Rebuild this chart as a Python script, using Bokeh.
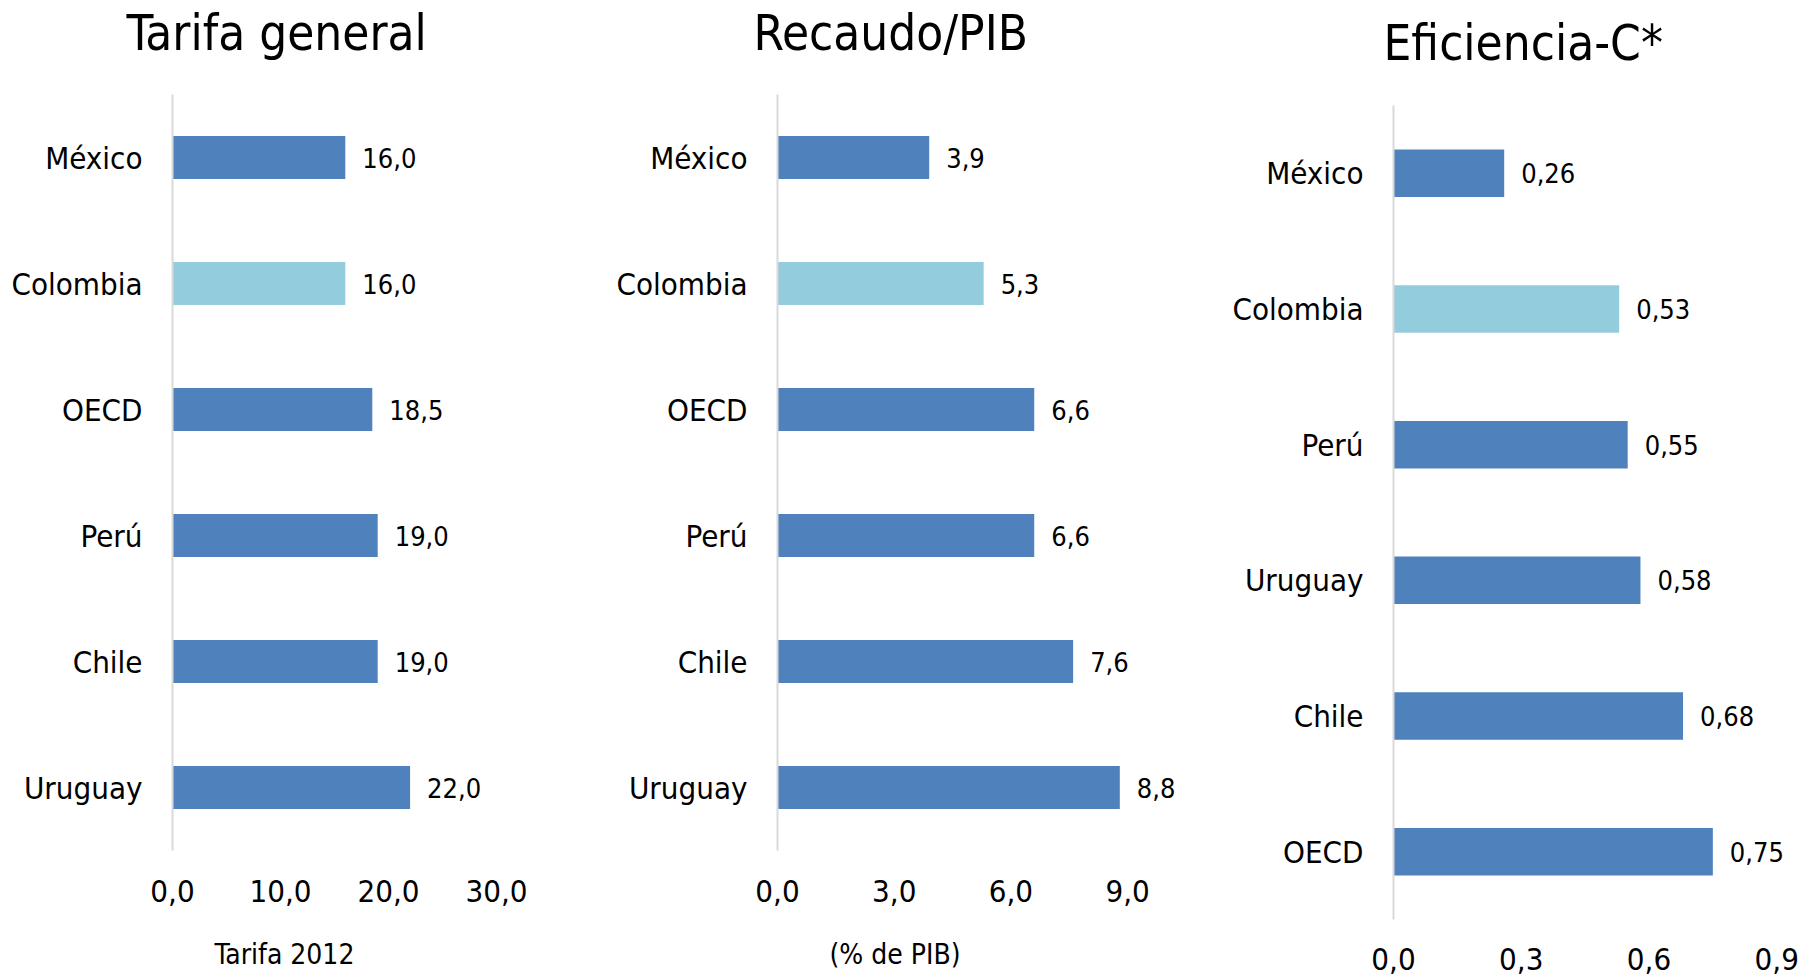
from bokeh.plotting import figure
from bokeh.layouts import row, column
from bokeh.models import (FactorRange, Range1d, FixedTicker, CustomJSTickFormatter,
                          LinearAxis, Title, ColumnDataSource)
from bokeh.core.properties import value
from bokeh.embed import file_html
from bokeh.resources import INLINE

FONT = "DejaVu Sans Condensed"
DARK = "#4F81BD"
LIGHT = "#93CDDD"

# ---- data ----
cats_tarifa = ["México", "Colombia", "OECD", "Perú", "Chile", "Uruguay"]
vals_tarifa = [16.0, 16.0, 18.5, 19.0, 19.0, 22.0]
ticks_tarifa = [0, 10, 20, 30]

cats_recaudo = ["México", "Colombia", "OECD", "Perú", "Chile", "Uruguay"]
vals_recaudo = [3.9, 5.3, 6.6, 6.6, 7.6, 8.8]
ticks_recaudo = [0, 3, 6, 9]

cats_efic = ["México", "Colombia", "Perú", "Uruguay", "Chile", "OECD"]
vals_efic = [0.26, 0.53, 0.55, 0.58, 0.68, 0.75]
ticks_efic = [0, 0.3, 0.6, 0.9]

titles = ["Tarifa general", "Recaudo/PIB", "Eficiencia-C*"]
subtitles = ["Tarifa 2012", "(% de PIB)", None]
highlight = "Colombia"


def spacer(px, mid):
    # an invisible axis used only to reserve room between the frame and a title
    return LinearAxis(ticker=FixedTicker(ticks=[mid]),
                      formatter=CustomJSTickFormatter(code="return '';"),
                      axis_line_color=None, major_tick_line_color=None,
                      minor_tick_line_color=None, major_tick_out=px, major_tick_in=0,
                      minor_tick_out=0, major_label_standoff=0,
                      major_label_text_font_size="1px")


def text_title(text, size, offset):
    return Title(text=text, align="left", offset=offset, standoff=0,
                 vertical_align="bottom", text_font=FONT, text_font_size=size,
                 text_font_style="normal", text_color="black")


def panel(title, cats, vals, ticks, dec, scale, width, height, bl, bt, br, bb,
          title_off, title_gap, bar_h, tick_standoff, sub=None, sub_off=0, sub_gap=0):
    frame_w = width - bl - br
    xmax = frame_w / scale
    p = figure(width=width, height=height, output_backend="svg", toolbar_location=None,
               y_range=FactorRange(factors=list(reversed(cats))),
               x_range=Range1d(0, xmax),
               min_border_left=bl, min_border_top=bt, min_border_right=br, min_border_bottom=bb)

    colors = [LIGHT if c == highlight else DARK for c in cats]
    labels = [f"{v:.{dec}f}".replace(".", ",") for v in vals]
    src = ColumnDataSource(dict(cat=cats, val=vals, color=colors, label=labels))
    p.hbar(y="cat", right="val", left=0, height=bar_h, fill_color="color",
           line_color=None, source=src)
    p.text(x="val", y="cat", text="label", source=src, x_offset=17,
           text_baseline="middle", text_align="left", text_font=value(FONT),
           text_font_size="27px", text_color="black")

    p.outline_line_color = None
    p.xgrid.grid_line_color = None
    p.ygrid.grid_line_color = None
    p.background_fill_color = "white"
    p.border_fill_color = "white"

    xa = p.xaxis[0]
    xa.ticker = FixedTicker(ticks=ticks)
    xa.formatter = CustomJSTickFormatter(code="return tick.toFixed(1).replace('.', ',');")
    xa.axis_line_color = None
    xa.major_tick_line_color = None
    xa.minor_tick_line_color = None
    xa.major_tick_out = 0
    xa.major_tick_in = 0
    xa.major_label_standoff = tick_standoff
    xa.major_label_text_font = FONT
    xa.major_label_text_font_size = "31px"
    xa.major_label_text_color = "black"

    ya = p.yaxis[0]
    ya.axis_line_color = "#D9D9D9"
    ya.axis_line_width = 2
    ya.major_tick_line_color = None
    ya.minor_tick_line_color = None
    ya.major_tick_out = 0
    ya.major_tick_in = 0
    ya.major_label_standoff = 30
    ya.major_label_text_font = FONT
    ya.major_label_text_font_size = "31px"
    ya.major_label_text_color = "black"

    p.add_layout(spacer(title_gap, xmax / 2), "above")
    p.add_layout(text_title(title, "49px", title_off), "above")
    if sub:
        p.add_layout(spacer(sub_gap, xmax / 2), "below")
        p.add_layout(text_title(sub, "28px", sub_off), "below")
    return p


H = 977
# panel 1: frame left at 172px, 10.8 px per unit
p1 = panel(titles[0], cats_tarifa, vals_tarifa, ticks_tarifa, 1, 10.8,
           530, H, 172, 94, 2, 127, -46, 33, 0.34, 29, subtitles[0], 42, 31)
# panel 2: frame left at 777px, 38.9 px per unit
p2 = panel(titles[1], cats_recaudo, vals_recaudo, ticks_recaudo, 1, 38.9,
           670, H, 247, 94, 15, 127, -24, 33, 0.34, 29, subtitles[1], 52, 31)
# panel 3: frame left at 1393px, 425.8 px per unit
p3 = panel(titles[2], cats_efic, vals_efic, ticks_efic, 2, 425.8,
           599, H, 193, 105, 0, 58, -10, 34, 0.35, 28)

layout = row(column(p1), column(p2), column(p3))
open("out.html", "w").write(file_html(layout, INLINE))
